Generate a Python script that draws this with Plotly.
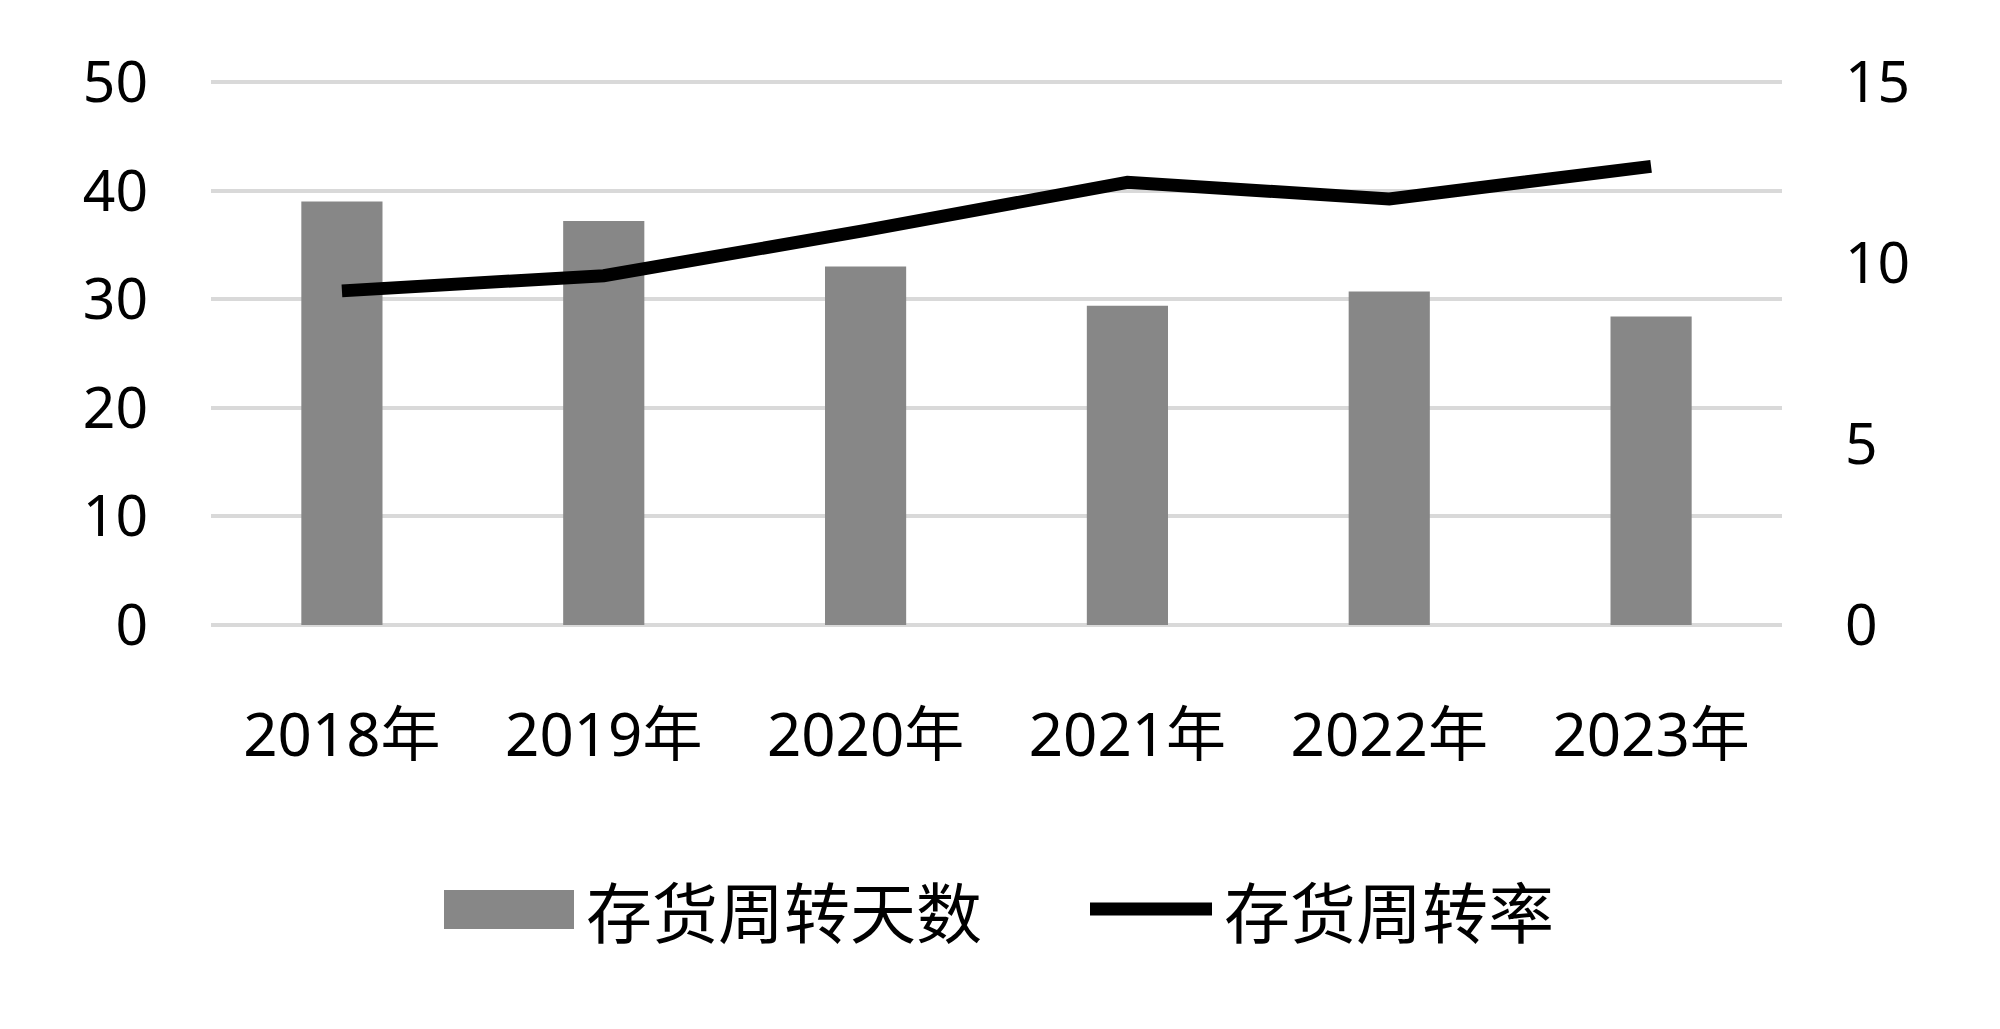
import plotly.graph_objects as go

# Data
years = ["2018年", "2019年", "2020年", "2021年", "2022年", "2023年"]
turnover_days = [39.0, 37.2, 33.0, 29.4, 30.7, 28.4]
turnover_rate = [9.23, 9.65, 10.9, 12.23, 11.77, 12.67]
left_ticks = [0, 10, 20, 30, 40, 50]
right_ticks = [0, 5, 10, 15]
name_days = "存货周转天数"
name_rate = "存货周转率"

OFF = 8  # page body margin
W, H = 2000 - 2 * OFF, 1029 - 2 * OFF
L, R, T, B = 211 - OFF, 1782 - OFF, 82 - OFF, 625 - OFF  # plot area in px (figure coords)

def px_x(x):
    return (x - OFF - L) / (R - L)

def px_y(y):
    return (B - (y - OFF)) / (B - T)

num_font = dict(family="Noto Sans, Noto Sans CJK SC", size=57, color="#000000")
cjk_font = dict(family="Noto Sans, Noto Sans CJK SC", size=60, color="#000000")
leg_font = dict(family="Noto Sans CJK SC", size=66, color="#000000")
grid_color = "#d9d9d9"

fig = go.Figure()
fig.add_trace(go.Bar(
    x=years, y=turnover_days, name=name_days,
    marker=dict(color="#878787", line=dict(width=0)),
    yaxis="y", showlegend=False,
))
fig.add_trace(go.Scatter(
    x=years, y=turnover_rate, name=name_rate, mode="lines",
    line=dict(color="#000000", width=13),
    yaxis="y2", showlegend=False,
))

fig.update_layout(
    width=W, height=H,
    margin=dict(l=L, r=W - R, t=T, b=H - B, pad=0),
    paper_bgcolor="white", plot_bgcolor="white",
    bargap=0.69,
    xaxis=dict(
        showgrid=False, showline=False, zeroline=False,
        tickfont=cjk_font, ticks="", ticklabelstandoff=70,
    ),
    yaxis=dict(
        range=[0, 50], tickvals=left_ticks, showgrid=True,
        gridcolor=grid_color, gridwidth=4, zeroline=True,
        zerolinecolor=grid_color, zerolinewidth=4, showline=False,
        tickfont=num_font, ticks="", ticklabelstandoff=62,
    ),
    yaxis2=dict(
        range=[0, 15], tickvals=right_ticks, overlaying="y", side="right",
        showgrid=False, zeroline=False, showline=False,
        tickfont=num_font, ticks="", ticklabelstandoff=62,
    ),
)

# top gridline at the axis maximum (plotly omits the grid line at the plot edge)
fig.add_shape(type="line", xref="paper", yref="paper", x0=0, x1=1,
              y0=1, y1=1, layer="below",
              line=dict(color=grid_color, width=4))

# Custom legend (swatches + text) below the plot
leg_y = 909
fig.add_shape(type="rect", xref="paper", yref="paper",
              x0=px_x(444), x1=px_x(574), y0=px_y(leg_y + 20), y1=px_y(leg_y - 19),
              fillcolor="#878787", line=dict(width=0))
fig.add_annotation(xref="paper", yref="paper", x=px_x(584), y=px_y(leg_y),
                   text=name_days, showarrow=False, xanchor="left", yanchor="middle",
                   font=leg_font)
fig.add_shape(type="line", xref="paper", yref="paper",
              x0=px_x(1090), x1=px_x(1212), y0=px_y(leg_y), y1=px_y(leg_y),
              line=dict(color="#000000", width=13))
fig.add_annotation(xref="paper", yref="paper", x=px_x(1222), y=px_y(leg_y),
                   text=name_rate, showarrow=False, xanchor="left", yanchor="middle",
                   font=leg_font)

fig.write_html("out.html")
